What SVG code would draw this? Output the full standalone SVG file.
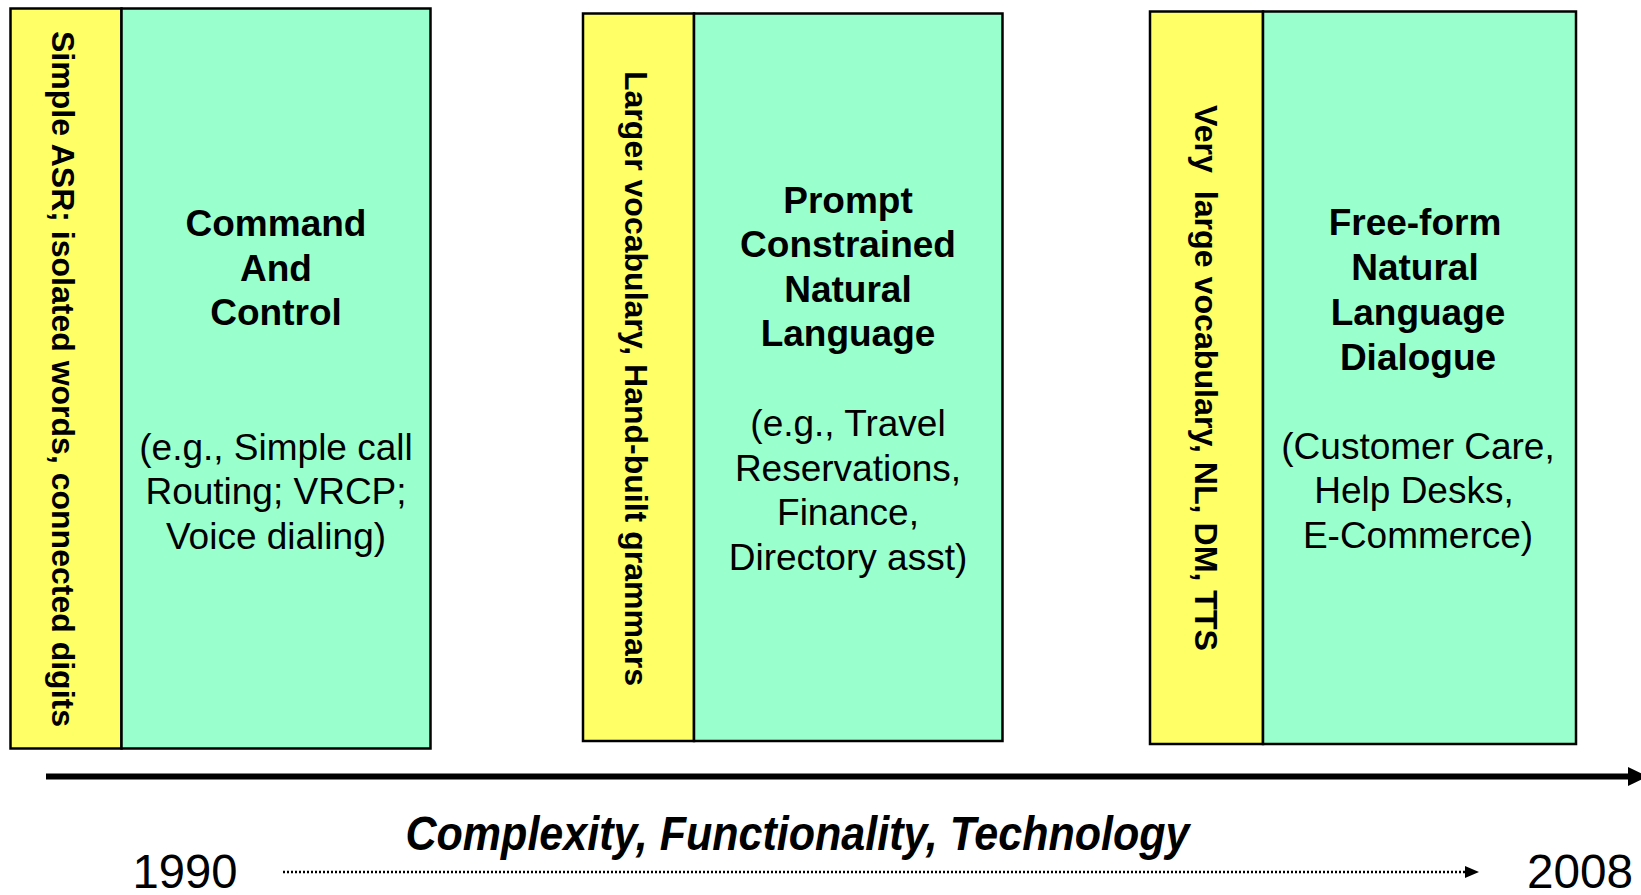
<svg xmlns="http://www.w3.org/2000/svg" width="1641" height="895" viewBox="0 0 1641 895">
<style>
.y{fill:#FFFF66;stroke:#000;stroke-width:2.5}
.g{fill:#99FFCC;stroke:#000;stroke-width:2.5}
.v{font-family:"Liberation Sans",Arial,sans-serif;font-weight:bold;font-size:32px;fill:#000;text-anchor:middle}
.t{font-family:"Liberation Sans",Arial,sans-serif;font-weight:bold;font-size:37px;fill:#000;text-anchor:middle}
.r{font-family:"Liberation Sans",Arial,sans-serif;font-size:37px;fill:#000;text-anchor:middle}
.b{font-family:"Liberation Sans",Arial,sans-serif;font-size:48px;fill:#000;text-anchor:middle}
</style>
<rect width="1641" height="895" fill="#fff"/>
<g id="node1">
<rect class="y" x="10.5" y="8.5" width="111" height="740"/>
<rect class="g" x="121.5" y="8.5" width="309" height="740"/>
<text class="v" transform="translate(52,379) rotate(90)" textLength="696" lengthAdjust="spacingAndGlyphs">Simple ASR; isolated words, connected digits</text>
<text class="t" x="276" y="236">Command</text>
<text class="t" x="276" y="281">And</text>
<text class="t" x="276" y="325">Control</text>
<text class="r" x="276" y="460">(e.g., Simple call</text>
<text class="r" x="276" y="504">Routing; VRCP;</text>
<text class="r" x="276" y="549">Voice dialing)</text>
</g>
<g id="node2">
<rect class="y" x="583" y="13.5" width="111" height="727.5"/>
<rect class="g" x="694" y="13.5" width="308.5" height="727.5"/>
<text class="v" transform="translate(625,378.5) rotate(90)" textLength="615" lengthAdjust="spacingAndGlyphs">Larger vocabulary, Hand-built grammars</text>
<text class="t" x="848" y="213">Prompt</text>
<text class="t" x="848" y="257">Constrained</text>
<text class="t" x="848" y="302">Natural</text>
<text class="t" x="848" y="346">Language</text>
<text class="r" x="848" y="436">(e.g., Travel</text>
<text class="r" x="848" y="481">Reservations,</text>
<text class="r" x="848" y="525">Finance,</text>
<text class="r" x="848" y="570">Directory asst)</text>
</g>
<g id="node3">
<rect class="y" x="1150" y="11.5" width="113" height="732.5"/>
<rect class="g" x="1263" y="11.5" width="313" height="732.5"/>
<text class="v" transform="translate(1195,378) rotate(90)" textLength="546" lengthAdjust="spacingAndGlyphs" xml:space="preserve">Very  large vocabulary, NL, DM, TTS</text>
<text class="t" x="1415" y="235">Free-form</text>
<text class="t" x="1415" y="280">Natural</text>
<text class="t" x="1418" y="325">Language</text>
<text class="t" x="1418" y="370">Dialogue</text>
<text class="r" x="1418" y="459">(Customer Care,</text>
<text class="r" x="1414" y="503">Help Desks,</text>
<text class="r" x="1418" y="548">E-Commerce)</text>
</g>
<g id="connectors">
<line x1="46" y1="776.5" x2="1630" y2="776.5" stroke="#000" stroke-width="6"/>
<path d="M1628,767 L1648,776.5 L1628,786 Z" fill="#000"/>
<line x1="283" y1="872" x2="1466" y2="872" stroke="#000" stroke-width="2.5" stroke-dasharray="2,2"/>
<path d="M1465,866 L1479,872 L1465,878 Z" fill="#000"/>
</g>
<g id="labels">
<text transform="translate(797.5,850)" font-family="Liberation Sans,Arial,sans-serif" font-weight="bold" font-style="italic" font-size="48" text-anchor="middle" textLength="784" lengthAdjust="spacingAndGlyphs">Complexity, Functionality, Technology</text>
<text class="b" x="185" y="888" textLength="105" lengthAdjust="spacingAndGlyphs">1990</text>
<text class="b" x="1580" y="888" textLength="106" lengthAdjust="spacingAndGlyphs">2008</text>
</g>
</svg>
